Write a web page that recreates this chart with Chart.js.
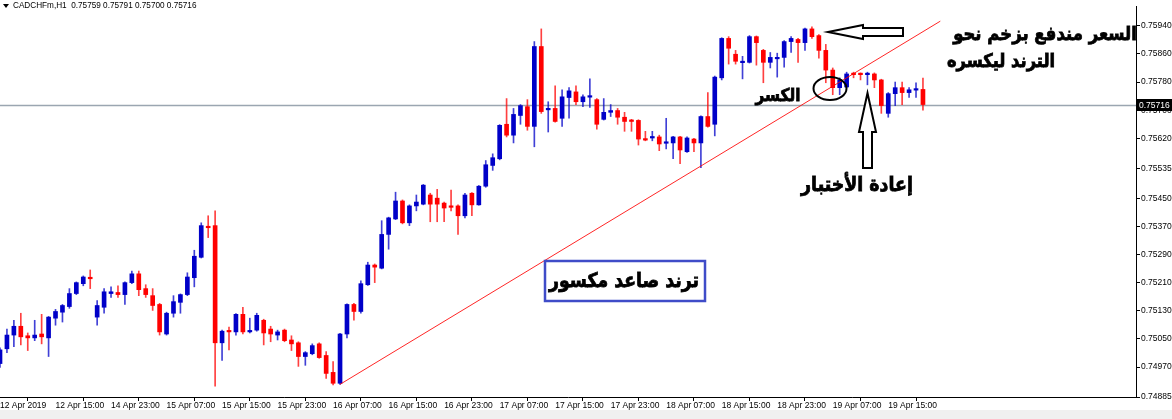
<!DOCTYPE html>
<html>
<head>
<meta charset="utf-8">
<script src="https://cdn.jsdelivr.net/npm/chart.js@4/dist/chart.umd.min.js"></script>
<style>
    html, body { margin: 0; padding: 0; background: #fff; }
    canvas { display: block; }
</style>
</head>
<body>
<canvas id="chart" width="1172" height="419"></canvas>
<script>
// CADCHF H1 candles, 12 Apr 07:00 -> 19 Apr 20:00 (one entry per bar)
const symbol = 'CADCHFm,H1';

const tickLabels = [
    '12 Apr 2019', '12 Apr 15:00', '14 Apr 23:00', '15 Apr 07:00', '15 Apr 15:00',
    '15 Apr 23:00', '16 Apr 07:00', '16 Apr 15:00', '16 Apr 23:00', '17 Apr 07:00',
    '17 Apr 15:00', '17 Apr 23:00', '18 Apr 07:00', '18 Apr 15:00', '18 Apr 23:00',
    '19 Apr 07:00', '19 Apr 15:00'
];
const barsPerLabel = 8;

const priceTicks = [
    0.74885, 0.74970, 0.75050, 0.75130, 0.75210, 0.75290, 0.75370,
    0.75450, 0.75535, 0.75620, 0.75700, 0.75780, 0.75860, 0.75940
];

const opens = [
    0.74980, 0.75022, 0.75061, 0.75086, 0.75059, 0.75053, 0.75064, 0.75053, 0.75109, 0.75126,
    0.75142, 0.75179, 0.75207, 0.75224, 0.75112, 0.75140, 0.75179, 0.75182, 0.75176, 0.75210,
    0.75235, 0.75193, 0.75173, 0.75148, 0.75064, 0.75123, 0.75154, 0.75176, 0.75224, 0.75282,
    0.75369, 0.75372, 0.75039, 0.75072, 0.75070, 0.75120, 0.75070, 0.75075, 0.75103, 0.75078,
    0.75061, 0.75075, 0.75047, 0.75039, 0.75000, 0.75008, 0.75036, 0.75003, 0.74955, 0.74924,
    0.75064, 0.75148, 0.75128, 0.75204, 0.75260, 0.75251, 0.75347, 0.75391, 0.75442, 0.75380,
    0.75428, 0.75433, 0.75459, 0.75450, 0.75436, 0.75425, 0.75428, 0.75400, 0.75464, 0.75431,
    0.75484, 0.75543, 0.75562, 0.75660, 0.75629, 0.75685, 0.75710, 0.75654, 0.75881, 0.75701,
    0.75705, 0.75677, 0.75736, 0.75752, 0.75724, 0.75737, 0.75730, 0.75674, 0.75694, 0.75699,
    0.75680, 0.75671, 0.75671, 0.75618, 0.75621, 0.75624, 0.75606, 0.75607, 0.75624, 0.75582,
    0.75618, 0.75607, 0.75682, 0.75660, 0.75792, 0.75904, 0.75859, 0.75835, 0.75836, 0.75909,
    0.75870, 0.75836, 0.75846, 0.75850, 0.75895, 0.75901, 0.75892, 0.75931, 0.75912, 0.75870,
    0.75814, 0.75764, 0.75766, 0.75803, 0.75803, 0.75801, 0.75803, 0.75786, 0.75691, 0.75747,
    0.75764, 0.75750, 0.75757, 0.75759
];
const highs = [
    0.75025, 0.75078, 0.75103, 0.75123, 0.75067, 0.75103, 0.75120, 0.75114, 0.75134, 0.75148,
    0.75193, 0.75212, 0.75229, 0.75246, 0.75159, 0.75193, 0.75198, 0.75201, 0.75212, 0.75243,
    0.75243, 0.75204, 0.75193, 0.75151, 0.75126, 0.75173, 0.75178, 0.75238, 0.75302, 0.75380,
    0.75400, 0.75414, 0.75075, 0.75084, 0.75122, 0.75140, 0.75109, 0.75123, 0.75106, 0.75086,
    0.75075, 0.75078, 0.75059, 0.75042, 0.75014, 0.75036, 0.75039, 0.75014, 0.74986, 0.75066,
    0.75150, 0.75151, 0.75215, 0.75268, 0.75263, 0.75386, 0.75396, 0.75467, 0.75445, 0.75431,
    0.75459, 0.75489, 0.75464, 0.75475, 0.75439, 0.75473, 0.75431, 0.75464, 0.75466, 0.75486,
    0.75557, 0.75576, 0.75659, 0.75733, 0.75705, 0.75716, 0.75730, 0.75895, 0.75931, 0.75724,
    0.75769, 0.75758, 0.75764, 0.75769, 0.75744, 0.75789, 0.75733, 0.75733, 0.75716, 0.75705,
    0.75694, 0.75674, 0.75673, 0.75640, 0.75640, 0.75629, 0.75677, 0.75626, 0.75626, 0.75624,
    0.75620, 0.75684, 0.75750, 0.75797, 0.75906, 0.75909, 0.75870, 0.75853, 0.75912, 0.75911,
    0.75873, 0.75864, 0.75862, 0.75898, 0.75909, 0.75904, 0.75933, 0.75937, 0.75915, 0.75887,
    0.75820, 0.75792, 0.75808, 0.75808, 0.75806, 0.75808, 0.75806, 0.75788, 0.75750, 0.75780,
    0.75780, 0.75764, 0.75778, 0.75791
];
const lows = [
    0.74969, 0.75011, 0.75028, 0.75033, 0.75017, 0.75045, 0.75036, 0.75000, 0.75089, 0.75098,
    0.75137, 0.75176, 0.75201, 0.75193, 0.75089, 0.75123, 0.75168, 0.75168, 0.75148, 0.75207,
    0.75173, 0.75168, 0.75131, 0.75061, 0.75061, 0.75112, 0.75123, 0.75173, 0.75198, 0.75280,
    0.75338, 0.74916, 0.74989, 0.75019, 0.75061, 0.75064, 0.75067, 0.75072, 0.75033, 0.75042,
    0.75047, 0.75042, 0.75017, 0.74972, 0.74975, 0.75005, 0.74995, 0.74938, 0.74919, 0.74921,
    0.75053, 0.75103, 0.75123, 0.75202, 0.75210, 0.75249, 0.75305, 0.75389, 0.75377, 0.75372,
    0.75414, 0.75431, 0.75383, 0.75383, 0.75383, 0.75414, 0.75347, 0.75394, 0.75400, 0.75430,
    0.75481, 0.75529, 0.75559, 0.75624, 0.75607, 0.75660, 0.75643, 0.75596, 0.75691, 0.75638,
    0.75666, 0.75654, 0.75677, 0.75716, 0.75710, 0.75708, 0.75646, 0.75672, 0.75682, 0.75660,
    0.75640, 0.75640, 0.75601, 0.75613, 0.75613, 0.75585, 0.75590, 0.75562, 0.75548, 0.75580,
    0.75582, 0.75537, 0.75652, 0.75627, 0.75786, 0.75831, 0.75831, 0.75789, 0.75834, 0.75828,
    0.75778, 0.75820, 0.75794, 0.75822, 0.75864, 0.75836, 0.75870, 0.75904, 0.75848, 0.75778,
    0.75744, 0.75744, 0.75764, 0.75792, 0.75786, 0.75772, 0.75764, 0.75691, 0.75680, 0.75713,
    0.75716, 0.75736, 0.75736, 0.75700
];
const closes = [
    0.75019, 0.75061, 0.75086, 0.75056, 0.75053, 0.75061, 0.75056, 0.75112, 0.75128, 0.75145,
    0.75179, 0.75210, 0.75226, 0.75221, 0.75145, 0.75184, 0.75184, 0.75176, 0.75210, 0.75235,
    0.75190, 0.75176, 0.75145, 0.75070, 0.75123, 0.75156, 0.75176, 0.75226, 0.75285, 0.75372,
    0.75366, 0.75039, 0.75072, 0.75070, 0.75120, 0.75070, 0.75072, 0.75117, 0.75067, 0.75064,
    0.75070, 0.75045, 0.75036, 0.75000, 0.75011, 0.75031, 0.74997, 0.74952, 0.74924, 0.75064,
    0.75148, 0.75128, 0.75207, 0.75260, 0.75254, 0.75347, 0.75394, 0.75442, 0.75380, 0.75428,
    0.75439, 0.75487, 0.75433, 0.75433, 0.75422, 0.75424, 0.75400, 0.75459, 0.75431, 0.75484,
    0.75545, 0.75565, 0.75657, 0.75629, 0.75688, 0.75713, 0.75654, 0.75881, 0.75696, 0.75703,
    0.75668, 0.75738, 0.75755, 0.75724, 0.75738, 0.75740, 0.75660, 0.75694, 0.75699, 0.75680,
    0.75668, 0.75668, 0.75618, 0.75615, 0.75624, 0.75604, 0.75608, 0.75624, 0.75587, 0.75621,
    0.75607, 0.75682, 0.75654, 0.75794, 0.75904, 0.75876, 0.75839, 0.75838, 0.75909, 0.75892,
    0.75836, 0.75850, 0.75849, 0.75895, 0.75904, 0.75892, 0.75931, 0.75909, 0.75870, 0.75814,
    0.75764, 0.75786, 0.75803, 0.75801, 0.75801, 0.75804, 0.75786, 0.75713, 0.75747, 0.75764,
    0.75750, 0.75758, 0.75759, 0.75716
];

// hand-drawn trend line: bar index / price of its two ends
const trendX = [49, 135.5];
const trendY = [0.74921, 0.75953];

const BULL = '#0000c8';
const BEAR = '#ff0000';
const BULL_WICK = 'rgba(0, 0, 200, 0.75)';
const BEAR_WICK = 'rgba(255, 0, 0, 0.75)';
const AXIS_FONT = { family: 'Liberation Sans, Arial, sans-serif', size: 8.5 };
const AR_FONT = '"DejaVu Sans", sans-serif';

const idx = opens.map((_, i) => i);
const isUp = idx.map(i => closes[i] >= opens[i]);
const last = closes.length - 1;

// bold arabic label, sized to the width it takes in the picture
function fitText(ctx, text, cx, cy, width) {
    ctx.font = `bold 20px ${AR_FONT}`;
    const size = 20 * width / ctx.measureText(text).width;
    ctx.font = `bold ${size.toFixed(1)}px ${AR_FONT}`;
    ctx.save();
    ctx.translate(cx, cy);
    ctx.scale(1, 1.15);
    ctx.lineWidth = 0.7;
    ctx.strokeStyle = ctx.fillStyle;
    ctx.fillText(text, 0, 0);
    ctx.strokeText(text, 0, 0);
    ctx.restore();
}

function outlineShape(ctx, pts) {
    ctx.beginPath();
    pts.forEach(([x, y], k) => k ? ctx.lineTo(x, y) : ctx.moveTo(x, y));
    ctx.closePath();
    ctx.fillStyle = '#fff';
    ctx.fill();
    ctx.strokeStyle = '#000';
    ctx.lineWidth = 2;
    ctx.stroke();
}

const mt4Plugin = {
    id: 'mt4',
    beforeDraw(chart) {
        const { ctx, width, height } = chart;
        ctx.save();
        ctx.fillStyle = '#fff';
        ctx.fillRect(0, 0, width, height);
        ctx.fillStyle = '#f0f0f0';
        ctx.fillRect(0, 410, width, height - 410);
        ctx.restore();
    },
    beforeDatasetsDraw(chart) {
        // current price line
        const { ctx, chartArea, scales } = chart;
        const y = Math.round(scales.y.getPixelForValue(closes[last])) + 0.5;
        ctx.save();
        ctx.strokeStyle = '#9ba6b1';
        ctx.lineWidth = 1.5;
        ctx.beginPath();
        ctx.moveTo(chartArea.left, y);
        ctx.lineTo(chartArea.right, y);
        ctx.stroke();
        ctx.restore();
    },
    afterDraw(chart) {
        const { ctx, chartArea, scales, width } = chart;
        ctx.save();

        // header
        ctx.fillStyle = '#000';
        ctx.beginPath();
        ctx.moveTo(3, 4); ctx.lineTo(9, 4); ctx.lineTo(6, 8);
        ctx.closePath();
        ctx.fill();
        ctx.font = `8.2px ${AXIS_FONT.family}`;
        ctx.textBaseline = 'middle';
        ctx.textAlign = 'left';
        const ohlc = [opens[last], highs[last], lows[last], closes[last]].map(v => v.toFixed(5)).join(' ');
        ctx.fillText(`${symbol}  ${ohlc}`, 13, 6);

        // price tag on the axis
        const py = Math.round(scales.y.getPixelForValue(closes[last]));
        ctx.fillStyle = '#000';
        ctx.fillRect(chartArea.right + 1, py - 6, width - chartArea.right - 1, 12);
        ctx.fillStyle = '#fff';
        ctx.font = `8.5px ${AXIS_FONT.family}`;
        ctx.fillText(closes[last].toFixed(5), chartArea.right + 3, py + 0.5);

        // annotations
        ctx.fillStyle = '#000';
        ctx.textAlign = 'center';
        ctx.textBaseline = 'middle';
        fitText(ctx, 'السعر مندفع بزخم نحو', 1045, 35, 184);
        fitText(ctx, 'الترند ليكسره', 1001, 62, 108);
        fitText(ctx, 'الكسر', 778, 96, 45);
        fitText(ctx, 'إعادة الأختبار', 857, 186, 112);

        outlineShape(ctx, [[828, 32], [863, 25], [863, 28], [903, 28], [903, 36], [863, 36], [863, 39]]);
        outlineShape(ctx, [[867.5, 93], [876, 132], [872, 132], [872, 168], [863, 168], [863, 132], [859, 132]]);

        ctx.beginPath();
        ctx.ellipse(830, 88.5, 16.5, 11.5, 0, 0, Math.PI * 2);
        ctx.strokeStyle = '#000';
        ctx.lineWidth = 2;
        ctx.stroke();

        ctx.fillStyle = '#fff';
        ctx.fillRect(545, 261, 160, 40);
        ctx.strokeStyle = '#3f4cc8';
        ctx.lineWidth = 2.5;
        ctx.strokeRect(545, 261, 160, 40);
        ctx.fillStyle = '#000';
        fitText(ctx, 'ترند صاعد مكسور', 624, 282, 150);

        ctx.restore();
    }
};

new Chart(document.getElementById('chart'), {
    type: 'bar',
    plugins: [mt4Plugin],
    data: {
        datasets: [
            {
                type: 'line',
                data: trendX.map((x, k) => ({ x, y: trendY[k] })),
                borderColor: 'rgba(255, 0, 0, 0.85)',
                borderWidth: 1,
                pointRadius: 0,
                order: 0
            },
            {
                data: idx.map(i => ({ x: i, y: [opens[i], closes[i]] })),
                backgroundColor: idx.map(i => isUp[i] ? BULL : BEAR),
                barThickness: 4,
                minBarLength: 1.5,
                grouped: false,
                order: 1
            },
            {
                data: idx.map(i => ({ x: i, y: [lows[i], highs[i]] })),
                backgroundColor: idx.map(i => isUp[i] ? BULL_WICK : BEAR_WICK),
                barThickness: 1,
                grouped: false,
                order: 2
            }
        ]
    },
    options: {
        responsive: false,
        animation: false,
        devicePixelRatio: 1,
        layout: { padding: { left: 0, top: 0, right: 0, bottom: 9 } },
        plugins: {
            legend: { display: false },
            tooltip: { enabled: false }
        },
        scales: {
            x: {
                type: 'linear',
                min: 0,
                max: 163.7,
                offset: false,
                afterBuildTicks: s => { s.ticks = tickLabels.map((_, k) => ({ value: k * barsPerLabel })); },
                afterFit: s => { s.height = 13; },
                grid: { drawOnChartArea: false, tickLength: 4, color: '#000' },
                border: { color: '#000', width: 1 },
                ticks: {
                    callback: v => tickLabels[v / barsPerLabel],
                    align: 'start',
                    autoSkip: false,
                    maxRotation: 0,
                    padding: 0,
                    color: '#000',
                    font: AXIS_FONT
                }
            },
            y: {
                position: 'right',
                min: 0.74885,
                max: 0.759958,
                afterBuildTicks: s => { s.ticks = priceTicks.map(v => ({ value: v })); },
                afterFit: s => { s.width = 36; },
                grid: { drawOnChartArea: false, tickLength: 4, color: '#000' },
                border: { color: '#000', width: 1 },
                ticks: {
                    callback: v => v.toFixed(5),
                    padding: 1,
                    color: '#000',
                    font: AXIS_FONT
                }
            }
        }
    }
});
</script>
</body>
</html>
